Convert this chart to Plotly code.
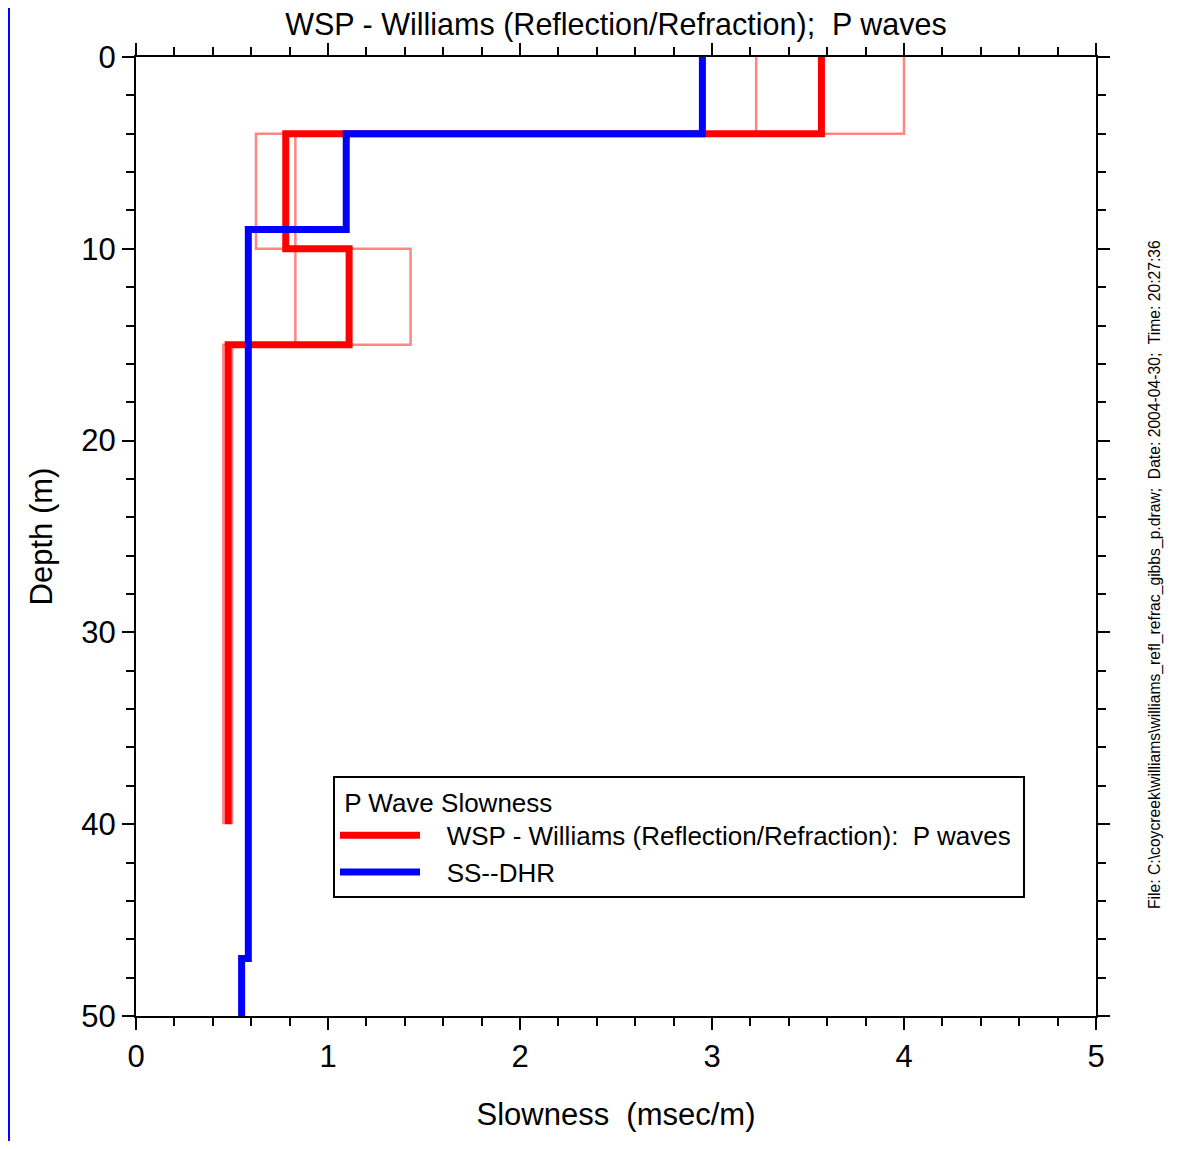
import plotly.graph_objects as go

# ---- data ----
red_bounds = [0, 4, 10, 15, 40]
red_vals = [3.57, 0.78, 1.11, 0.48]
red_lower = [3.23, 0.625, 0.83, 0.455]
red_upper = [4.00, 0.83, 1.43, 0.50]

blue_bounds = [0, 4, 9, 47, 50]
blue_vals = [2.95, 1.095, 0.585, 0.55]

x_ticks = [0, 1, 2, 3, 4, 5]
y_ticks = [0, 10, 20, 30, 40, 50]


def stairs(bounds, vals):
    xs, ys = [], []
    for i, v in enumerate(vals):
        xs += [v, v]
        ys += [bounds[i], bounds[i + 1]]
    return xs, ys


FONT = "Liberation Sans, Arial, sans-serif"
W, H = 1175, 1133
L, T, PW, PH = 128, 49, 960, 959
NB = "\u00a0"

fig = go.Figure()

for arr in (red_lower, red_upper):
    xs, ys = stairs(red_bounds, arr)
    fig.add_trace(go.Scatter(x=xs, y=ys, mode="lines", showlegend=False,
                             line=dict(color="rgba(255,110,110,0.85)", width=2.5),
                             hoverinfo="skip"))

xs, ys = stairs(red_bounds, red_vals)
fig.add_trace(go.Scatter(x=xs, y=ys, mode="lines",
                         name=NB * 3 + "WSP - Williams (Reflection/Refraction):  P waves" + NB,
                         line=dict(color="#FF0000", width=7)))
xs, ys = stairs(blue_bounds, blue_vals)
fig.add_trace(go.Scatter(x=xs, y=ys, mode="lines", name=NB * 3 + "SS--DHR",
                         line=dict(color="#0000FF", width=7)))

axis_common = dict(showgrid=False, zeroline=False, showline=True, linecolor="black",
                   linewidth=2, mirror="allticks", ticks="outside", ticklen=12,
                   tickwidth=2, tickcolor="black",
                   tickfont=dict(family=FONT, size=31, color="black"))

fig.update_xaxes(range=[0, 5], tickvals=x_ticks, ticktext=[str(v) for v in x_ticks],
                 title=dict(text="Slowness  (msec/m)", font=dict(family=FONT, size=31, color="black"),
                            standoff=30),
                 minor=dict(dtick=0.2, ticks="outside", ticklen=8, tickwidth=2, tickcolor="black"),
                 **axis_common)
fig.update_yaxes(range=[50, 0], tickvals=y_ticks, ticktext=[str(v) for v in y_ticks],
                 title=dict(text="Depth (m)", font=dict(family=FONT, size=31, color="black"),
                            standoff=19),
                 minor=dict(dtick=2, ticks="outside", ticklen=8, tickwidth=2, tickcolor="black"),
                 **axis_common)

fig.update_layout(
    width=W, height=H,
    margin=dict(l=L, r=W - L - PW, t=T, b=H - T - PH),
    paper_bgcolor="white", plot_bgcolor="white",
    title=dict(text="WSP - Williams (Reflection/Refraction);  P waves",
               font=dict(family=FONT, size=30.5, color="black"),
               x=608 / W, xanchor="center", y=1 - 16 / H, yanchor="middle"),
    legend=dict(x=0.2 + 5 / PW, y=0.2503, xanchor="left", yanchor="top",
                bordercolor="black", borderwidth=2, bgcolor="white",
                itemwidth=80,
                title=dict(text=NB + "P Wave Slowness", font=dict(family=FONT, size=26, color="black")),
                font=dict(family=FONT, size=26, color="black"),
                tracegroupgap=0),
    annotations=[dict(
        text="File: C:\\coycreek\\williams\\williams_refl_refrac_gibbs_p.draw;  Date: 2004-04-30;  Time: 20:27:36",
        xref="paper", yref="paper", x=(1155 - 136) / PW, y=1 - (575 - 57) / PH,
        xanchor="center", yanchor="middle", textangle=-90, showarrow=False,
        font=dict(family=FONT, size=15.7, color="black"))],
    shapes=[dict(type="line", xref="paper", yref="paper",
                 x0=-(L - 1) / PW, x1=-(L - 1) / PW, y0=1 + T / PH, y1=-(H - T - PH) / PH,
                 line=dict(color="#0000FF", width=2))],
)

fig.write_html("out.html")
